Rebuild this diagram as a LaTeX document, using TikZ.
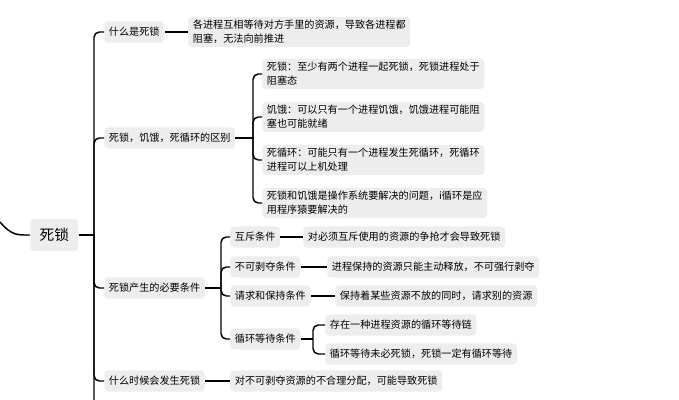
\documentclass[tikz,border=0pt]{standalone}
\usepackage{fontspec}
\setmainfont{Noto Sans CJK SC}
\begin{document}
\begin{tikzpicture}[x=0.75pt,y=-0.75pt,
  box/.style={fill=black!7,rounded corners=3pt,inner xsep=3.5pt,inner ysep=2.5pt,font=\fontsize{7.6pt}{10.5pt}\selectfont,align=left,anchor=west,minimum height=16pt},
  ln/.style={line width=1.1pt,rounded corners=4pt}]
\useasboundingbox (0,0) rectangle (679,400);
\node[box,font=\fontsize{11pt}{13pt}\selectfont,minimum height=24pt,inner xsep=7pt] (root) at (30,235) {死锁};
\node[box] (a) at (104,32) {什么是死锁};
\node[box] (b) at (104,138) {死锁，饥饿，死循环的区别};
\node[box] (c) at (104,288) {死锁产生的必要条件};
\node[box] (d) at (104,381) {什么时候会发生死锁};
\coordinate (rs) at (0,222);
\coordinate (tb) at (94,400);
\draw[ln] (rs) .. controls (12,236) and (18,235) .. (root.west);
\draw[ln] (root.east) -- (94,235);
\draw[ln] (tb) -- (94,235) |- (a.west);
\draw[ln] (94,235) |- (b.west);
\draw[ln] (94,235) |- (c.west);
\draw[ln] (94,235) |- (d.west);
% a
\node[box] (a1) at (188,32) {各进程互相等待对方手里的资源，导致各进程都\\阻塞，无法向前推进};
\draw[ln] (a) -- (a1);
% b
\node[box] (b1) at (262,74) {死锁：至少有两个进程一起死锁，死锁进程处于\\阻塞态};
\node[box] (b2) at (262,117) {饥饿：可以只有一个进程饥饿，饥饿进程可能阻\\塞也可能就绪};
\node[box] (b3) at (262,160) {死循环：可能只有一个进程发生死循环，死循环\\进程可以上机处理};
\node[box] (b4) at (262,203) {死锁和饥饿是操作系统要解决的问题，i循环是应\\用程序猿要解决的};
\draw[ln] (b.east) -- (253,138);
\foreach \n in {b1,b2,b3,b4} \draw[ln] (253,138) |- (\n.west);
% c
\node[box] (c1) at (230,237) {互斥条件};
\node[box] (c2) at (230,267) {不可剥夺条件};
\node[box] (c3) at (230,296) {请求和保持条件};
\node[box] (c4) at (230,339) {循环等待条件};
\draw[ln] (c.east) -- (221,288);
\foreach \n in {c1,c2,c3,c4} \draw[ln] (221,288) |- (\n.west);
\node[box] (c11) at (303,237) {对必须互斥使用的资源的争抢才会导致死锁};
\node[box] (c21) at (327,267) {进程保持的资源只能主动释放，不可强行剥夺};
\node[box] (c31) at (335,296) {保持着某些资源不放的同时，请求别的资源};
\draw[ln] (c1) -- (c11);
\draw[ln] (c2) -- (c21);
\draw[ln] (c3) -- (c31);
\node[box] (c41) at (325,325) {存在一种进程资源的循环等待链};
\node[box] (c42) at (325,354) {循环等待未必死锁，死锁一定有循环等待};
\draw[ln] (c4.east) -- (313,339);
\draw[ln] (313,339) |- (c41.west);
\draw[ln] (313,339) |- (c42.west);
% d
\node[box] (d1) at (230,381) {对不可剥夺资源的不合理分配，可能导致死锁};
\draw[ln] (d) -- (d1);
\end{tikzpicture}
\end{document}
